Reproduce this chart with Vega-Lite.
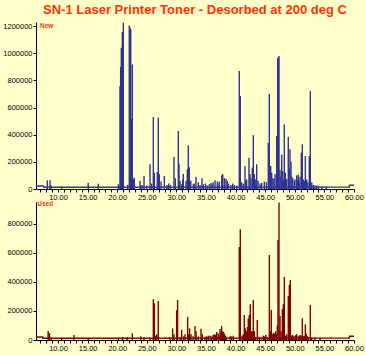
{
  "$schema": "https://vega.github.io/schema/vega-lite/v6.json",
  "background": "#FFFFCC",
  "padding": {"left": 2, "top": 3, "right": 3, "bottom": 4},
  "bounds": "flush",
  "spacing": 13,
  "title": {"text": "SN-1 Laser Printer Toner - Desorbed at 200 deg C", "font": "Liberation Sans", "fontSize": 13, "fontWeight": "bold", "color": "#FF3300", "anchor": "middle", "frame": "group", "offset": 5},
  "config": {
    "view": {"stroke": null},
    "axis": {"domainColor": "#000000", "tickColor": "#000000", "labelColor": "#000000", "labelFont": "Liberation Sans", "labelFontSize": 7.5, "grid": false, "tickSize": 3, "labelPadding": 1, "title": null, "domainWidth": 1, "tickWidth": 1, "labelOverlap": false, "labelFlush": false}
  },
  "datasets": {
    "new": [
      {"t": 8.19, "v": 64000}, {"t": 8.65, "v": 64000}, {"t": 8.8, "v": 30000}, {"t": 10.6, "v": 18000},
      {"t": 15.1, "v": 46000}, {"t": 16.8, "v": 39000}, {"t": 20.19, "v": 35000},
      {"t": 20.47, "v": 758000}, {"t": 20.58, "v": 900000}, {"t": 20.69, "v": 1040000}, {"t": 20.86, "v": 1156000}, {"t": 21.03, "v": 1225000},
      {"t": 21.77, "v": 30000}, {"t": 22.04, "v": 1205000}, {"t": 22.16, "v": 1190000}, {"t": 22.28, "v": 1176000}, {"t": 22.38, "v": 515000},
      {"t": 22.55, "v": 918000}, {"t": 22.72, "v": 73000}, {"t": 22.89, "v": 83000}, {"t": 23.85, "v": 59000}, {"t": 23.97, "v": 25000},
      {"t": 24.2, "v": 30000}, {"t": 24.53, "v": 96000}, {"t": 25.0, "v": 25000}, {"t": 25.54, "v": 182000}, {"t": 25.8, "v": 40000},
      {"t": 26.1, "v": 530000}, {"t": 26.27, "v": 120000}, {"t": 26.77, "v": 125000}, {"t": 26.94, "v": 525000}, {"t": 27.11, "v": 110000},
      {"t": 27.4, "v": 55000}, {"t": 27.96, "v": 96000}, {"t": 28.4, "v": 30000}, {"t": 28.7, "v": 40000}, {"t": 29.0, "v": 30000},
      {"t": 29.59, "v": 235000}, {"t": 29.81, "v": 80000}, {"t": 30.32, "v": 427000}, {"t": 30.44, "v": 186000}, {"t": 30.61, "v": 60000},
      {"t": 30.9, "v": 35000}, {"t": 31.06, "v": 70000}, {"t": 31.16, "v": 110000}, {"t": 31.62, "v": 60000}, {"t": 31.84, "v": 145000},
      {"t": 32.01, "v": 321000}, {"t": 32.18, "v": 160000}, {"t": 32.42, "v": 60000}, {"t": 32.86, "v": 35000}, {"t": 33.0, "v": 40000},
      {"t": 33.31, "v": 90000}, {"t": 33.7, "v": 50000}, {"t": 34.0, "v": 30000}, {"t": 34.32, "v": 79000}, {"t": 34.54, "v": 35000},
      {"t": 34.9, "v": 40000}, {"t": 35.2, "v": 25000}, {"t": 35.55, "v": 35000}, {"t": 35.84, "v": 45000}, {"t": 36.0, "v": 35000},
      {"t": 36.2, "v": 50000}, {"t": 36.52, "v": 65000}, {"t": 36.91, "v": 55000}, {"t": 37.0, "v": 40000}, {"t": 37.24, "v": 55000},
      {"t": 37.65, "v": 100000}, {"t": 37.82, "v": 110000}, {"t": 38.09, "v": 80000}, {"t": 38.38, "v": 75000}, {"t": 38.6, "v": 60000},
      {"t": 38.8, "v": 40000}, {"t": 39.2, "v": 30000}, {"t": 39.51, "v": 40000}, {"t": 39.78, "v": 30000}, {"t": 40.2, "v": 25000},
      {"t": 40.62, "v": 869000}, {"t": 40.79, "v": 685000}, {"t": 41.0, "v": 50000}, {"t": 41.3, "v": 40000}, {"t": 41.59, "v": 170000},
      {"t": 41.7, "v": 60000}, {"t": 41.87, "v": 70000}, {"t": 42.26, "v": 231000}, {"t": 42.43, "v": 110000}, {"t": 42.6, "v": 80000},
      {"t": 42.82, "v": 157000}, {"t": 42.99, "v": 397000}, {"t": 43.16, "v": 110000}, {"t": 43.4, "v": 70000}, {"t": 43.56, "v": 182000},
      {"t": 43.8, "v": 60000}, {"t": 44.12, "v": 40000}, {"t": 44.4, "v": 45000}, {"t": 44.85, "v": 55000}, {"t": 45.2, "v": 50000},
      {"t": 45.52, "v": 341000}, {"t": 45.69, "v": 702000}, {"t": 45.93, "v": 170000}, {"t": 46.1, "v": 120000}, {"t": 46.3, "v": 80000},
      {"t": 46.49, "v": 75000}, {"t": 46.66, "v": 110000}, {"t": 46.94, "v": 390000}, {"t": 47.11, "v": 967000}, {"t": 47.22, "v": 960000},
      {"t": 47.33, "v": 979000}, {"t": 47.5, "v": 140000}, {"t": 47.65, "v": 90000}, {"t": 47.79, "v": 255000}, {"t": 47.96, "v": 130000},
      {"t": 48.1, "v": 70000}, {"t": 48.23, "v": 476000}, {"t": 48.4, "v": 120000}, {"t": 48.63, "v": 75000}, {"t": 48.9, "v": 383000},
      {"t": 49.05, "v": 150000}, {"t": 49.19, "v": 292000}, {"t": 49.36, "v": 200000}, {"t": 49.5, "v": 90000}, {"t": 49.65, "v": 80000},
      {"t": 49.9, "v": 60000}, {"t": 50.03, "v": 70000}, {"t": 50.32, "v": 100000}, {"t": 50.5, "v": 70000}, {"t": 50.59, "v": 105000},
      {"t": 50.75, "v": 50000}, {"t": 50.88, "v": 90000}, {"t": 51.1, "v": 267000}, {"t": 51.27, "v": 329000}, {"t": 51.44, "v": 70000},
      {"t": 51.6, "v": 60000}, {"t": 51.78, "v": 243000}, {"t": 52.01, "v": 70000}, {"t": 52.2, "v": 50000}, {"t": 52.45, "v": 243000},
      {"t": 52.62, "v": 721000}, {"t": 52.86, "v": 50000}, {"t": 53.13, "v": 30000}, {"t": 53.4, "v": 25000}, {"t": 53.7, "v": 25000},
      {"t": 54.0, "v": 20000}, {"t": 54.6, "v": 20000}, {"t": 55.3, "v": 18000}
    ],
    "newBase": [
      {"t": 6.28, "v": 22000}, {"t": 7.55, "v": 22000}, {"t": 7.6, "v": 13000}, {"t": 59.2, "v": 15000}, {"t": 59.25, "v": 28000}, {"t": 60.0, "v": 28000}
    ],
    "used": [
      {"t": 8.33, "v": 62000}, {"t": 8.55, "v": 48000}, {"t": 8.84, "v": 22000}, {"t": 10.6, "v": 16000}, {"t": 12.7, "v": 34000},
      {"t": 15.1, "v": 16000}, {"t": 20.2, "v": 16000}, {"t": 20.9, "v": 20000}, {"t": 21.7, "v": 20000}, {"t": 22.55, "v": 46000},
      {"t": 23.97, "v": 25000}, {"t": 24.53, "v": 20000}, {"t": 25.54, "v": 16000}, {"t": 26.1, "v": 281000}, {"t": 26.27, "v": 253000},
      {"t": 26.5, "v": 30000}, {"t": 26.67, "v": 40000}, {"t": 26.94, "v": 269000}, {"t": 28.9, "v": 20000}, {"t": 29.36, "v": 80000},
      {"t": 29.6, "v": 40000}, {"t": 30.04, "v": 205000}, {"t": 30.2, "v": 276000}, {"t": 30.6, "v": 20000}, {"t": 30.88, "v": 70000},
      {"t": 31.2, "v": 25000}, {"t": 31.45, "v": 40000}, {"t": 31.9, "v": 159000}, {"t": 32.07, "v": 40000}, {"t": 32.23, "v": 80000},
      {"t": 32.47, "v": 40000}, {"t": 32.8, "v": 25000}, {"t": 33.15, "v": 97000}, {"t": 33.32, "v": 60000}, {"t": 33.7, "v": 25000},
      {"t": 34.16, "v": 78000}, {"t": 34.38, "v": 40000}, {"t": 34.84, "v": 22000}, {"t": 35.1, "v": 25000}, {"t": 35.39, "v": 30000},
      {"t": 35.7, "v": 30000}, {"t": 35.96, "v": 25000}, {"t": 36.2, "v": 35000}, {"t": 36.41, "v": 40000}, {"t": 36.6, "v": 35000},
      {"t": 36.8, "v": 55000}, {"t": 37.08, "v": 45000}, {"t": 37.2, "v": 30000}, {"t": 37.37, "v": 75000}, {"t": 37.5, "v": 50000},
      {"t": 37.64, "v": 97000}, {"t": 37.81, "v": 60000}, {"t": 37.95, "v": 55000}, {"t": 38.1, "v": 45000}, {"t": 38.3, "v": 30000},
      {"t": 38.49, "v": 22000}, {"t": 39.06, "v": 25000}, {"t": 39.3, "v": 25000}, {"t": 39.6, "v": 30000}, {"t": 40.62, "v": 641000},
      {"t": 40.79, "v": 763000}, {"t": 41.08, "v": 30000}, {"t": 41.3, "v": 40000}, {"t": 41.47, "v": 172000}, {"t": 41.64, "v": 80000},
      {"t": 41.87, "v": 60000}, {"t": 42.0, "v": 90000}, {"t": 42.14, "v": 150000}, {"t": 42.31, "v": 172000}, {"t": 42.48, "v": 246000},
      {"t": 42.65, "v": 60000}, {"t": 42.82, "v": 60000}, {"t": 42.99, "v": 276000}, {"t": 43.16, "v": 60000}, {"t": 43.33, "v": 22000},
      {"t": 43.66, "v": 138000}, {"t": 44.0, "v": 22000}, {"t": 44.3, "v": 20000}, {"t": 44.68, "v": 30000}, {"t": 44.85, "v": 25000},
      {"t": 45.09, "v": 35000}, {"t": 45.43, "v": 22000}, {"t": 45.7, "v": 586000}, {"t": 45.86, "v": 60000}, {"t": 46.03, "v": 207000},
      {"t": 46.27, "v": 40000}, {"t": 46.4, "v": 50000}, {"t": 46.54, "v": 45000}, {"t": 46.77, "v": 60000}, {"t": 46.94, "v": 40000},
      {"t": 47.05, "v": 100000}, {"t": 47.16, "v": 688000}, {"t": 47.33, "v": 947000}, {"t": 47.5, "v": 166000}, {"t": 47.67, "v": 60000},
      {"t": 47.89, "v": 212000}, {"t": 48.06, "v": 246000}, {"t": 48.23, "v": 434000}, {"t": 48.4, "v": 30000}, {"t": 48.63, "v": 40000},
      {"t": 48.9, "v": 303000}, {"t": 49.07, "v": 379000}, {"t": 49.24, "v": 414000}, {"t": 49.41, "v": 30000}, {"t": 49.6, "v": 35000},
      {"t": 49.75, "v": 25000}, {"t": 50.03, "v": 30000}, {"t": 50.2, "v": 35000}, {"t": 50.32, "v": 40000}, {"t": 50.59, "v": 25000},
      {"t": 50.75, "v": 30000}, {"t": 50.88, "v": 35000}, {"t": 51.1, "v": 30000}, {"t": 51.27, "v": 150000}, {"t": 51.44, "v": 25000},
      {"t": 51.6, "v": 30000}, {"t": 51.78, "v": 108000}, {"t": 51.94, "v": 45000}, {"t": 52.1, "v": 25000}, {"t": 52.28, "v": 22000},
      {"t": 52.62, "v": 241000}, {"t": 52.86, "v": 18000}, {"t": 53.41, "v": 18000}, {"t": 54.26, "v": 16000}
    ],
    "usedBase": [
      {"t": 6.28, "v": 20000}, {"t": 7.4, "v": 20000}, {"t": 7.45, "v": 12000}, {"t": 59.2, "v": 14000}, {"t": 59.25, "v": 25000}, {"t": 60.0, "v": 25000}
    ],
    "newLabel": [{"t": 6.95, "v": 1200000, "label": "New"}],
    "usedLabel": [{"t": 6.5, "v": 934000, "label": "Used"}]
  },
  "vconcat": [
    {
      "width": 318,
      "height": 167,
      "encoding": {
        "x": {"field": "t", "type": "quantitative", "scale": {"domain": [6.28, 60], "nice": false, "zero": false},
          "axis": {"values": [7,8,9,10,11,12,13,14,15,16,17,18,19,20,21,22,23,24,25,26,27,28,29,30,31,32,33,34,35,36,37,38,39,40,41,42,43,44,45,46,47,48,49,50,51,52,53,54,55,56,57,58,59,60], "labelExpr": "datum.value % 5 == 0 ? format(datum.value, '.2f') : ''"}},
        "y": {"field": "v", "type": "quantitative", "scale": {"domain": [0, 1230000], "nice": false},
          "axis": {"values": [0, 200000, 400000, 600000, 800000, 1000000, 1200000], "format": "d"}}
      },
      "layer": [
        {
          "data": {"name": "new"},
          "mark": {"type": "rule", "color": "#2E3395", "strokeWidth": 1.4},
          "encoding": {"y2": {"datum": 0}}
        },
        {
          "data": {"name": "newBase"},
          "mark": {"type": "line", "color": "#2E3395", "strokeWidth": 1.5},
          "encoding": {}
        },
        {
          "data": {"name": "newLabel"},
          "mark": {"type": "text", "color": "#FF3300", "font": "Liberation Sans", "fontSize": 6.5, "fontWeight": "bold", "align": "left", "baseline": "middle"},
          "encoding": {"text": {"field": "label"}}
        }
      ]
    },
    {
      "width": 318,
      "height": 138,
      "encoding": {
        "x": {"field": "t", "type": "quantitative", "scale": {"domain": [6.28, 60], "nice": false, "zero": false},
          "axis": {"values": [7,8,9,10,11,12,13,14,15,16,17,18,19,20,21,22,23,24,25,26,27,28,29,30,31,32,33,34,35,36,37,38,39,40,41,42,43,44,45,46,47,48,49,50,51,52,53,54,55,56,57,58,59,60], "labelExpr": "datum.value % 5 == 0 ? format(datum.value, '.2f') : ''"}},
        "y": {"field": "v", "type": "quantitative", "scale": {"domain": [0, 950000], "nice": false},
          "axis": {"values": [0, 200000, 400000, 600000, 800000], "format": "d"}}
      },
      "layer": [
        {
          "data": {"name": "used"},
          "mark": {"type": "rule", "color": "#800000", "strokeWidth": 1.4},
          "encoding": {"y2": {"datum": 0}}
        },
        {
          "data": {"name": "usedBase"},
          "mark": {"type": "line", "color": "#800000", "strokeWidth": 1.5},
          "encoding": {}
        },
        {
          "data": {"name": "usedLabel"},
          "mark": {"type": "text", "color": "#FF3300", "font": "Liberation Sans", "fontSize": 6.5, "fontWeight": "bold", "align": "left", "baseline": "middle"},
          "encoding": {"text": {"field": "label"}}
        }
      ]
    }
  ]
}
